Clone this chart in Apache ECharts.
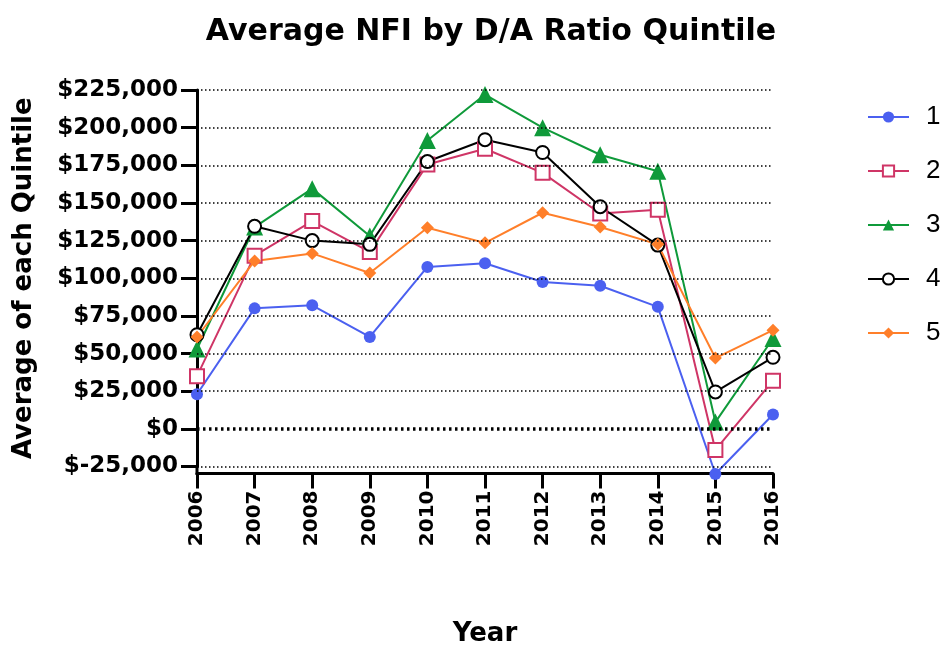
<!DOCTYPE html>
<html>
<head>
<meta charset="utf-8">
<script src="https://cdn.jsdelivr.net/npm/echarts@6/dist/echarts.min.js"></script>
<style>
    html, body { margin: 0; padding: 0; background: #fff; }
    #main { width: 943px; height: 646px; }
</style>
</head>
<body>
<div id="main"></div>
<script>
    var years = ['2006', '2007', '2008', '2009', '2010', '2011', '2012', '2013', '2014', '2015', '2016'];
    var q1 = [23000, 80000, 82000, 61000, 107500, 110000, 97500, 95000, 81000, -30000, 9500];
    var q2 = [35000, 115000, 138000, 117500, 175500, 186000, 170000, 143000, 145500, -14000, 32000];
    var q3 = [53000, 134000, 159500, 128000, 191500, 222000, 200000, 182000, 171000, 4500, 60000];
    var q4 = [62500, 134500, 125000, 122500, 177500, 192000, 183500, 147500, 122000, 24500, 47500];
    var q5 = [61000, 111500, 116500, 103500, 133500, 123500, 143500, 134000, 122500, 47000, 65500];
    var gridValues = [-25000, 0, 25000, 50000, 75000, 100000, 125000, 150000, 175000, 200000, 225000];

    var font = 'DejaVu Sans';
    var chart = echarts.init(document.getElementById('main'), null, { renderer: 'canvas' });

    function line(name, data, color, symbol, size, bw) {
        return {
            name: name,
            type: 'line',
            data: data,
            clip: false,
            symbol: symbol,
            symbolSize: size,
            lineStyle: { color: color, width: 2 },
            itemStyle: { color: color, borderColor: color, borderWidth: bw },
            emphasis: { disabled: true }
        };
    }

    var s1 = line('1', q1, '#4b60f0', 'circle', 12, 0);
    var s2 = line('2', q2, '#cf3566', 'emptyRect', 14, 3);
    var s3 = line('3', q3, '#0f9a3a', 'triangle', 17, 0);
    var s4 = line('4', q4, '#000000', 'emptyCircle', 13, 3.2);
    var s5 = line('5', q5, '#ff7f2a', 'diamond', 13, 0);

    // gridlines, the zero one heavier
    var gl = [];
    for (var i = 0; i < gridValues.length; i++) {
        if (gridValues[i] === 0) {
            gl.push({ yAxis: 0, lineStyle: { color: '#000', type: [2.5, 3.5], width: 3.5 } });
        } else {
            gl.push({ yAxis: gridValues[i] });
        }
    }
    var grid = {
        name: 'grid',
        type: 'line',
        data: [],
        z: 1,
        markLine: {
            silent: true,
            symbol: 'none',
            label: { show: false },
            animation: false,
            lineStyle: { color: '#000', type: [1.5, 2.5], width: 1.5 },
            data: gl
        }
    };

    var option = {
        animation: false,
        backgroundColor: '#fff',
        title: {
            text: 'Average NFI by D/A Ratio Quintile',
            left: 486,
            textAlign: 'center',
            top: 12,
            textStyle: { fontFamily: font, fontWeight: 'bold', fontSize: 30, color: '#000' }
        },
        legend: {
            orient: 'vertical',
            left: 862,
            top: 99,
            itemWidth: 41,
            itemHeight: 14,
            itemGap: 28,
            textStyle: { fontFamily: 'Liberation Sans', fontSize: 26, color: '#000', padding: [0, 0, 0, 12] },
            data: ['1', '2', '3', '4', '5']
        },
        grid: { left: 197, right: 170, top: 90, bottom: 179.5, containLabel: false, outerBoundsMode: 'none' },
        xAxis: {
            type: 'category',
            data: years,
            boundaryGap: false,
            offset: 7,
            name: 'Year',
            nameLocation: 'middle',
            nameGap: 148,
            nameTextStyle: { fontFamily: font, fontWeight: 'bold', fontSize: 26, color: '#000' },
            axisLine: { onZero: false, lineStyle: { color: '#000', width: 3 } },
            axisTick: { length: 15, lineStyle: { color: '#000', width: 3 }, alignWithLabel: true },
            axisLabel: {
                rotate: 90, margin: 17,
                fontFamily: font, fontWeight: 'bold', fontSize: 20, color: '#000'
            },
            splitLine: { show: false }
        },
        yAxis: {
            type: 'value',
            min: -25000,
            max: 225000,
            interval: 25000,
            name: 'Average of each Quintile',
            nameLocation: 'middle',
            nameGap: 160,
            nameRotate: 90,
            nameTextStyle: { fontFamily: font, fontWeight: 'bold', fontSize: 26, color: '#000' },
            axisLine: {
                show: true,
                symbol: ['rect', 'none'],
                symbolSize: [3, 9],
                symbolOffset: [-4, 0],
                lineStyle: { color: '#000', width: 3 }
            },
            axisTick: { show: true, length: 16, lineStyle: { color: '#000', width: 3 } },
            axisLabel: {
                margin: 19,
                fontFamily: font, fontWeight: 'bold', fontSize: 23, color: '#000',
                formatter: function (v) { return '$' + v.toLocaleString('en-US'); }
            },
            splitLine: { show: false }
        },
        series: [grid, s1, s2, s3, s4, s5]
    };
    chart.setOption(option);
</script>
</body>
</html>
